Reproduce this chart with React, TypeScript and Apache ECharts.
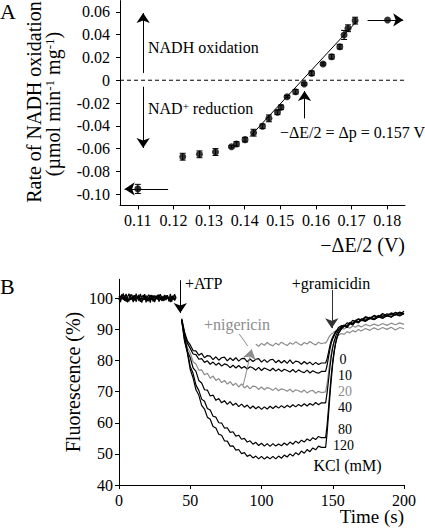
import React, { useEffect, useRef } from 'react';
import * as echarts from 'echarts';

const FONT = 'Liberation Serif';
const GRAY = '#8c8c8c';

// ---------- Panel A ----------
const aX = [0.1100, 0.1226, 0.1273, 0.1318, 0.1363, 0.1377, 0.1401, 0.1425, 0.1450, 0.1468, 0.1492, 0.1502, 0.1519, 0.1543, 0.1567, 0.1588, 0.1620, 0.1644, 0.1667, 0.1679, 0.1690, 0.1710, 0.1801];
const aY = [-0.0955, -0.0672, -0.0651, -0.0631, -0.0584, -0.0560, -0.0522, -0.0461, -0.0405, -0.0335, -0.0282, -0.0238, -0.0145, -0.0101, -0.0033, 0.0061, 0.0143, 0.0207, 0.0295, 0.0398, 0.0457, 0.0524, 0.0530];
const aErr = [0.004, 0.003, 0.003, 0.003, 0.001, 0.002, 0.002, 0.003, 0.002, 0.003, 0.002, 0.002, 0.001, 0.002, 0.001, 0.002, 0.001, 0.002, 0.002, 0.004, 0.003, 0.003, 0];
const fitX = [0.1415, 0.1715];
const fitY = [-0.0495, 0.052];
const zeroLineX = [0.105, 0.185];
const aXTicks = [0.11, 0.12, 0.13, 0.14, 0.15, 0.16, 0.17, 0.18];
const aYTicks = [-0.1, -0.08, -0.06, -0.04, -0.02, 0, 0.02, 0.04, 0.06];
// annotation arrows [from, to] in data units
const aArrows = [
  [[0.1185, -0.0955], [0.1063, -0.0955]],
  [[0.1745, 0.053], [0.1845, 0.053]],
  [[0.1115, 0.0064], [0.1115, 0.059]],
  [[0.1115, -0.0057], [0.1115, -0.0596]],
  [[0.1568, -0.0335], [0.1568, -0.0095]],
];

// ---------- Panel B ----------
const bXTicksInterval = 50;
const bYTicks = [40, 50, 60, 70, 80, 90, 100];
const baseTimes = Array.from({ length: 41 }, (_, i) => i);
const base1 = [100.6, 99.2, 101.3, 99.8, 100.9, 98.9, 100.4, 101.5, 99.5, 100.2, 98.8, 101.0, 99.9, 100.7, 99.1, 101.4, 100.0, 99.4, 100.8, 98.7, 100.5, 101.2, 99.6, 100.1, 99.0, 100.9, 99.7, 101.1, 98.9, 100.3, 99.8, 100.6, 99.3, 101.0, 99.9, 100.4, 98.8, 100.7, 99.5, 101.3, 100.2];
const base2 = [99.4, 100.8, 99.9, 101.6, 99.2, 100.5, 98.7, 100.1, 101.2, 99.6, 100.9, 99.3, 101.5, 99.8, 100.6, 98.9, 100.3, 101.0, 99.5, 100.9, 99.1, 100.4, 98.6, 101.1, 100.0, 99.3, 100.8, 99.6, 100.5, 101.3, 99.2, 100.0, 101.1, 99.4, 100.7, 99.0, 101.4, 99.8, 100.6, 99.3, 100.1];
const base3 = [100.1, 98.8, 100.6, 99.5, 100.2, 101.4, 99.7, 99.0, 100.8, 101.2, 99.4, 100.5, 98.9, 100.3, 101.1, 99.9, 98.6, 100.4, 101.3, 99.6, 100.7, 99.0, 101.0, 99.5, 100.9, 98.8, 100.2, 99.9, 101.2, 99.4, 100.8, 99.1, 100.5, 99.8, 101.0, 99.6, 100.3, 98.9, 100.9, 99.7, 100.4];

const decayTimes = Array.from({ length: 50 }, (_, i) => 44 + 2 * i);
const kcl0 = [93.5, 89.2, 86.3, 85.0, 83.2, 83.1, 81.7, 82.3, 80.9, 81.6, 81.4, 80.3, 81.2, 80.1, 80.9, 81.1, 79.9, 80.8, 80.0, 80.9, 79.8, 80.6, 80.7, 79.6, 80.5, 79.7, 80.4, 80.6, 79.5, 80.3, 79.4, 80.2, 80.4, 79.3, 80.1, 79.2, 80.0, 79.1, 80.2, 79.0, 79.8, 79.6, 78.8, 79.7, 78.9, 79.5, 78.6, 79.4, 78.7, 79.2];
const kcl10 = [93.2, 88.6, 85.6, 83.9, 82.1, 81.9, 80.4, 80.6, 79.4, 79.9, 78.8, 79.5, 78.5, 79.2, 78.2, 78.9, 78.6, 77.7, 78.5, 77.6, 78.4, 77.5, 78.1, 77.3, 78.0, 77.6, 76.9, 77.8, 76.8, 77.6, 77.2, 76.7, 77.5, 76.6, 77.3, 76.5, 77.2, 76.8, 76.3, 77.1, 76.2, 77.0, 76.4, 76.1, 76.9, 76.0, 76.7, 76.2, 75.9, 76.5];
const kcl20 = [93.0, 88.3, 84.2, 82.4, 79.6, 78.9, 76.9, 77.0, 75.4, 75.9, 74.3, 75.0, 73.6, 74.2, 72.9, 73.6, 72.4, 73.2, 72.0, 72.7, 71.5, 72.5, 71.2, 71.9, 70.9, 71.8, 71.6, 70.7, 71.5, 70.6, 71.3, 71.0, 70.4, 71.2, 70.3, 70.9, 70.6, 70.1, 70.8, 69.9, 70.6, 70.3, 69.8, 70.5, 69.6, 70.2, 70.4, 69.5, 70.1, 69.7];
const kcl40 = [93.0, 87.8, 83.1, 80.9, 77.6, 76.5, 73.6, 72.8, 70.6, 70.5, 68.6, 68.9, 67.2, 67.8, 66.4, 67.1, 65.9, 66.8, 65.6, 66.3, 65.2, 66.0, 65.0, 65.7, 64.6, 65.4, 64.5, 65.2, 64.3, 65.1, 64.4, 65.3, 64.6, 65.4, 64.7, 65.5, 64.8, 65.6, 65.0, 65.8, 65.1, 65.9, 65.3, 66.1, 65.4, 66.2, 65.6, 66.5, 65.8, 66.4];
const kcl80 = [93.0, 86.6, 82.9, 78.1, 75.9, 72.1, 70.4, 67.6, 66.9, 64.6, 64.1, 62.1, 61.8, 60.0, 59.9, 58.3, 58.4, 56.9, 57.1, 55.7, 56.0, 54.7, 55.0, 53.8, 54.2, 53.1, 53.7, 52.7, 53.4, 52.5, 53.3, 52.4, 53.3, 52.5, 53.2, 52.6, 53.5, 52.8, 53.8, 53.1, 54.1, 53.4, 54.4, 53.8, 54.8, 54.2, 55.2, 54.6, 55.6, 55.2];
const kcl120 = [93.0, 86.2, 82.4, 77.1, 74.4, 70.6, 68.9, 65.6, 64.4, 61.8, 61.1, 58.8, 58.3, 56.3, 56.0, 54.2, 54.1, 52.5, 52.6, 51.2, 51.4, 50.1, 50.4, 49.2, 49.7, 48.7, 49.3, 48.4, 49.2, 48.3, 49.1, 48.4, 49.2, 48.4, 49.3, 48.6, 49.6, 49.0, 50.0, 49.3, 50.4, 49.7, 50.9, 50.2, 51.4, 50.7, 51.9, 51.3, 52.5, 52.1];
const nigTimes = Array.from({ length: 25 }, (_, i) => 96 + 2 * i);
const nigericin = [85.2, 84.6, 85.5, 84.9, 85.8, 85.1, 84.7, 85.6, 85.0, 85.9, 85.3, 84.8, 85.7, 85.2, 86.0, 85.4, 84.9, 85.8, 85.3, 86.1, 85.5, 85.0, 85.9, 85.4, 85.7];

const recTimes = [145, 146, 147, 148, 149, 150, 151, 152, 153, 154, 156, 158, 160, 162, 164, 166, 168, 170, 173, 176, 179, 182, 185, 188, 191, 194, 197, 200];
const rec0 = [79.2, 80.5, 82.5, 84.8, 86.5, 87.6, 88.4, 89.4, 89.8, 90.6, 91.2, 91.0, 92.1, 91.8, 92.9, 92.5, 93.4, 93.0, 94.1, 93.6, 94.5, 94.0, 95.1, 94.4, 95.3, 94.8, 95.6, 95.0];
const rec10 = [76.5, 78.4, 81.0, 83.6, 85.7, 87.0, 88.0, 88.9, 89.6, 90.1, 90.9, 91.4, 91.1, 92.3, 92.0, 92.9, 93.3, 92.8, 93.8, 93.4, 94.3, 93.9, 94.7, 94.2, 95.0, 94.6, 95.4, 94.9];
const rec20 = [69.9, 72.5, 76.0, 79.6, 82.5, 84.6, 86.0, 87.0, 87.6, 88.1, 88.7, 88.4, 89.3, 88.9, 89.6, 89.2, 90.0, 89.5, 90.3, 89.7, 90.5, 89.9, 90.6, 90.0, 90.7, 89.8, 90.6, 90.2];
const recNig = [85.6, 86.3, 87.2, 88.0, 88.5, 88.8, 89.3, 89.0, 89.6, 89.9, 90.4, 90.1, 90.8, 90.4, 91.1, 90.7, 91.3, 90.8, 91.6, 91.1, 91.7, 91.2, 91.9, 91.3, 92.0, 91.5, 92.1, 91.6];
const rec40 = [66.4, 69.5, 73.5, 77.8, 81.4, 84.2, 86.2, 87.7, 88.8, 89.6, 90.5, 91.1, 90.8, 92.0, 91.6, 92.6, 92.2, 93.1, 92.7, 93.6, 93.2, 94.1, 93.6, 94.5, 93.9, 94.8, 94.3, 95.1];
const rec80 = [55.2, 59.0, 64.5, 70.2, 75.4, 79.8, 83.2, 85.7, 87.5, 88.8, 90.2, 91.0, 90.6, 91.8, 91.4, 92.5, 92.1, 93.0, 92.6, 93.5, 93.1, 94.0, 93.6, 94.4, 94.0, 95.0, 94.5, 95.3];
const rec120 = [52.1, 56.5, 62.4, 68.7, 74.2, 79.0, 82.7, 85.4, 87.3, 88.7, 90.1, 91.2, 90.8, 92.1, 91.7, 92.8, 92.4, 93.4, 93.0, 93.9, 93.5, 94.5, 94.1, 95.0, 94.6, 95.5, 94.9, 95.8];

// annotation arrows in panel B, [from, to, color, head]
const bArrows: [number[], number[], string, boolean][] = [
  [[43, 105.8], [43, 95.3], '#000', true],
  [[149.3, 102.7], [149.3, 90.4], '#333', true],
  [[87.2, 72.1], [93.1, 83.6], GRAY, true],
  [[84.4, 88.5], [90.3, 84.7], GRAY, false],
];

const pairs = (t: number[], v: number[]) => {
  const n = Math.min(t.length, v.length);
  const out: number[][] = [];
  for (let i = 0; i < n; i++) out.push([t[i], v[i]]);
  return out;
};

const arrowPair = (from: number[], to: number[], color: string, head: boolean) => [
  { coord: from, symbol: 'none', lineStyle: { color, width: 1, type: 'solid' } },
  { coord: to, symbol: head ? 'arrow' : 'none', symbolSize: 10, lineStyle: { color, width: 1, type: 'solid' } },
];

const axisCommon = {
  splitLine: { show: false },
  axisLine: { show: true, onZero: false, lineStyle: { color: '#000', width: 1 } },
};
const labelCommon = { color: '#000', fontSize: 16, fontFamily: FONT };

const txt = (text: string, x: number, y: number, opts: any = {}) => ({
  type: 'text',
  x,
  y,
  rotation: opts.rotation || 0,
  silent: true,
  style: {
    text,
    fill: opts.fill || '#000',
    fontSize: opts.fontSize || 16,
    fontFamily: FONT,
    align: opts.align || 'left',
    verticalAlign: 'middle',
    textAlign: opts.align || 'left',
    textVerticalAlign: 'middle',
    rich: opts.rich,
  },
});

function buildOption() {
  const lineS = (data: number[][], color: string, xi: number, width = 1.2, extra: any = {}) => ({
    type: 'line',
    xAxisIndex: xi,
    yAxisIndex: xi,
    data,
    symbol: 'none',
    showSymbol: false,
    silent: true,
    lineStyle: { color, width },
    z: 2,
    ...extra,
  });

  const traces: [number[], number[], number[], string][] = [
    [decayTimes, kcl20, rec20, GRAY],
    [nigTimes, nigericin, recNig, GRAY],
    [decayTimes, kcl0, rec0, '#000'],
    [decayTimes, kcl10, rec10, '#000'],
    [decayTimes, kcl40, rec40, '#000'],
    [decayTimes, kcl80, rec80, '#000'],
    [decayTimes, kcl120, rec120, '#000'],
  ];

  const supRich = { sup: { fontSize: 11, fontFamily: FONT, verticalAlign: 'top', fill: '#000' } };
  const kclOpts = (extra: any = {}) => ({ align: 'center', fontSize: 14, ...extra });

  return {
    animation: false,
    backgroundColor: '#fff',
    textStyle: { fontFamily: FONT },
    grid: [
      { left: 120, top: 0.6, width: 285, height: 204.8 },
      { left: 119, top: 279.3, width: 285, height: 205.7 },
    ],
    xAxis: [
      {
        type: 'value', gridIndex: 0, min: 0.105, max: 0.185, ...axisCommon,
        axisTick: { show: true, customValues: aXTicks, length: 4, lineStyle: { color: '#000' } },
        axisLabel: { ...labelCommon, customValues: aXTicks, margin: 7, formatter: (v: number) => v.toFixed(2) },
      },
      {
        type: 'value', gridIndex: 1, min: 0, max: 200, interval: bXTicksInterval, ...axisCommon,
        axisTick: { show: true, length: 4, lineStyle: { color: '#000' } },
        axisLabel: { ...labelCommon, margin: 7 },
      },
    ],
    yAxis: [
      {
        type: 'value', gridIndex: 0, min: -0.11, max: 0.07, ...axisCommon,
        axisTick: { show: true, customValues: aYTicks, length: 4, lineStyle: { color: '#000' } },
        axisLabel: {
          ...labelCommon, customValues: aYTicks, margin: 10,
          formatter: (v: number) => (Math.abs(v) < 1e-9 ? '0' : v.toFixed(2)),
        },
      },
      {
        type: 'value', gridIndex: 1, min: 40, max: 106.1, ...axisCommon,
        axisTick: { show: true, customValues: bYTicks, length: 4, lineStyle: { color: '#000' } },
        axisLabel: { ...labelCommon, customValues: bYTicks, margin: 6 },
      },
    ],
    series: [
      // Panel A
      lineS(zeroLineX.map((x) => [x, 0]), '#000', 0, 1, { lineStyle: { color: '#000', width: 1, type: [4, 3] } }),
      lineS(pairs(fitX, fitY), '#000', 0, 1, {
        markLine: {
          silent: true,
          animation: false,
          label: { show: false },
          emphasis: { disabled: true },
          data: aArrows.map(([f, t]) => arrowPair(f, t, '#000', true)),
        },
      }),
      {
        type: 'custom',
        xAxisIndex: 0,
        yAxisIndex: 0,
        silent: true,
        data: aX.map((x, i) => [x, aY[i], aErr[i]]).filter((d) => d[2] > 0),
        encode: { x: 0, y: 1 },
        renderItem: (_p: any, api: any) => {
          const x = api.value(0);
          const y = api.value(1);
          const e = api.value(2);
          const top = api.coord([x, y + e]);
          const bot = api.coord([x, y - e]);
          const w = 3;
          const st = { stroke: '#000', lineWidth: 1 };
          return {
            type: 'group',
            children: [
              { type: 'line', shape: { x1: top[0], y1: top[1], x2: bot[0], y2: bot[1] }, style: st },
              { type: 'line', shape: { x1: top[0] - w, y1: top[1], x2: top[0] + w, y2: top[1] }, style: st },
              { type: 'line', shape: { x1: bot[0] - w, y1: bot[1], x2: bot[0] + w, y2: bot[1] }, style: st },
            ],
          };
        },
        z: 3,
      },
      {
        type: 'scatter',
        xAxisIndex: 0,
        yAxisIndex: 0,
        data: pairs(aX, aY),
        symbol: 'circle',
        symbolSize: 7,
        silent: true,
        itemStyle: { color: '#000' },
        z: 4,
      },
      // Panel B
      lineS(pairs(baseTimes, base1), '#000', 1),
      lineS(pairs(baseTimes, base2), '#000', 1),
      lineS(pairs(baseTimes, base3), '#000', 1),
      ...traces.map(([t, d, r, c]) => lineS([...pairs(t, d), ...pairs(recTimes, r)], c, 1)),
      lineS([], '#000', 1, 1, {
        markLine: {
          silent: true,
          animation: false,
          label: { show: false },
          emphasis: { disabled: true },
          data: bArrows.map(([f, t, c, h]) => arrowPair(f, t, c, h)),
        },
      }),
    ],
    graphic: [
      txt('A', 0, 11, { fontSize: 22 }),
      txt('B', 0, 286, { fontSize: 22 }),
      txt('NADH oxidation', 148, 47),
      txt('NAD{sup|+} reduction', 148, 108, { rich: supRich }),
      txt('\u2212\u0394E/2 = \u0394p = 0.157 V', 280, 132),
      txt('\u2212\u0394E/2 (V)', 405, 245, { fontSize: 20, align: 'right' }),
      txt('Rate of NADH oxidation', 34, 102, { fontSize: 20, align: 'center', rotation: Math.PI / 2 }),
      txt('(\u00b5mol min{sup|-1} mg{sup|-1})', 53, 104, {
        fontSize: 20, align: 'center', rotation: Math.PI / 2,
        rich: { sup: { fontSize: 13, fontFamily: FONT, verticalAlign: 'top', fill: '#000' } },
      }),
      txt('+ATP', 185, 283.5, { fontSize: 16 }),
      txt('+gramicidin', 331, 283.5, { fontSize: 16, align: 'center' }),
      txt('+nigericin', 204, 324, { fontSize: 16, fill: GRAY }),
      txt('0', 343, 359.5, kclOpts()),
      txt('10', 345, 375.5, kclOpts()),
      txt('20', 345, 391.5, kclOpts({ fill: GRAY })),
      txt('40', 345, 407.5, kclOpts()),
      txt('80', 345, 429.5, kclOpts()),
      txt('120', 343.5, 445.5, kclOpts()),
      txt('KCl (mM)', 347.5, 465.5, { align: 'center' }),
      txt('Time (s)', 404, 516.5, { fontSize: 19, align: 'right' }),
      txt('Fluorescence (%)', 73, 382, { fontSize: 20, align: 'center', rotation: Math.PI / 2 }),
    ],
  };
}

export default function App() {
  const ref = useRef<HTMLDivElement>(null);
  useEffect(() => {
    if (!ref.current) return;
    const chart = echarts.init(ref.current, undefined, { renderer: 'svg' });
    chart.setOption(buildOption() as any);
    return () => chart.dispose();
  }, []);
  return (
    <div
      ref={ref}
      style={{ position: 'absolute', left: 0, top: 0, width: 425, height: 530, background: '#fff' }}
    />
  );
}
